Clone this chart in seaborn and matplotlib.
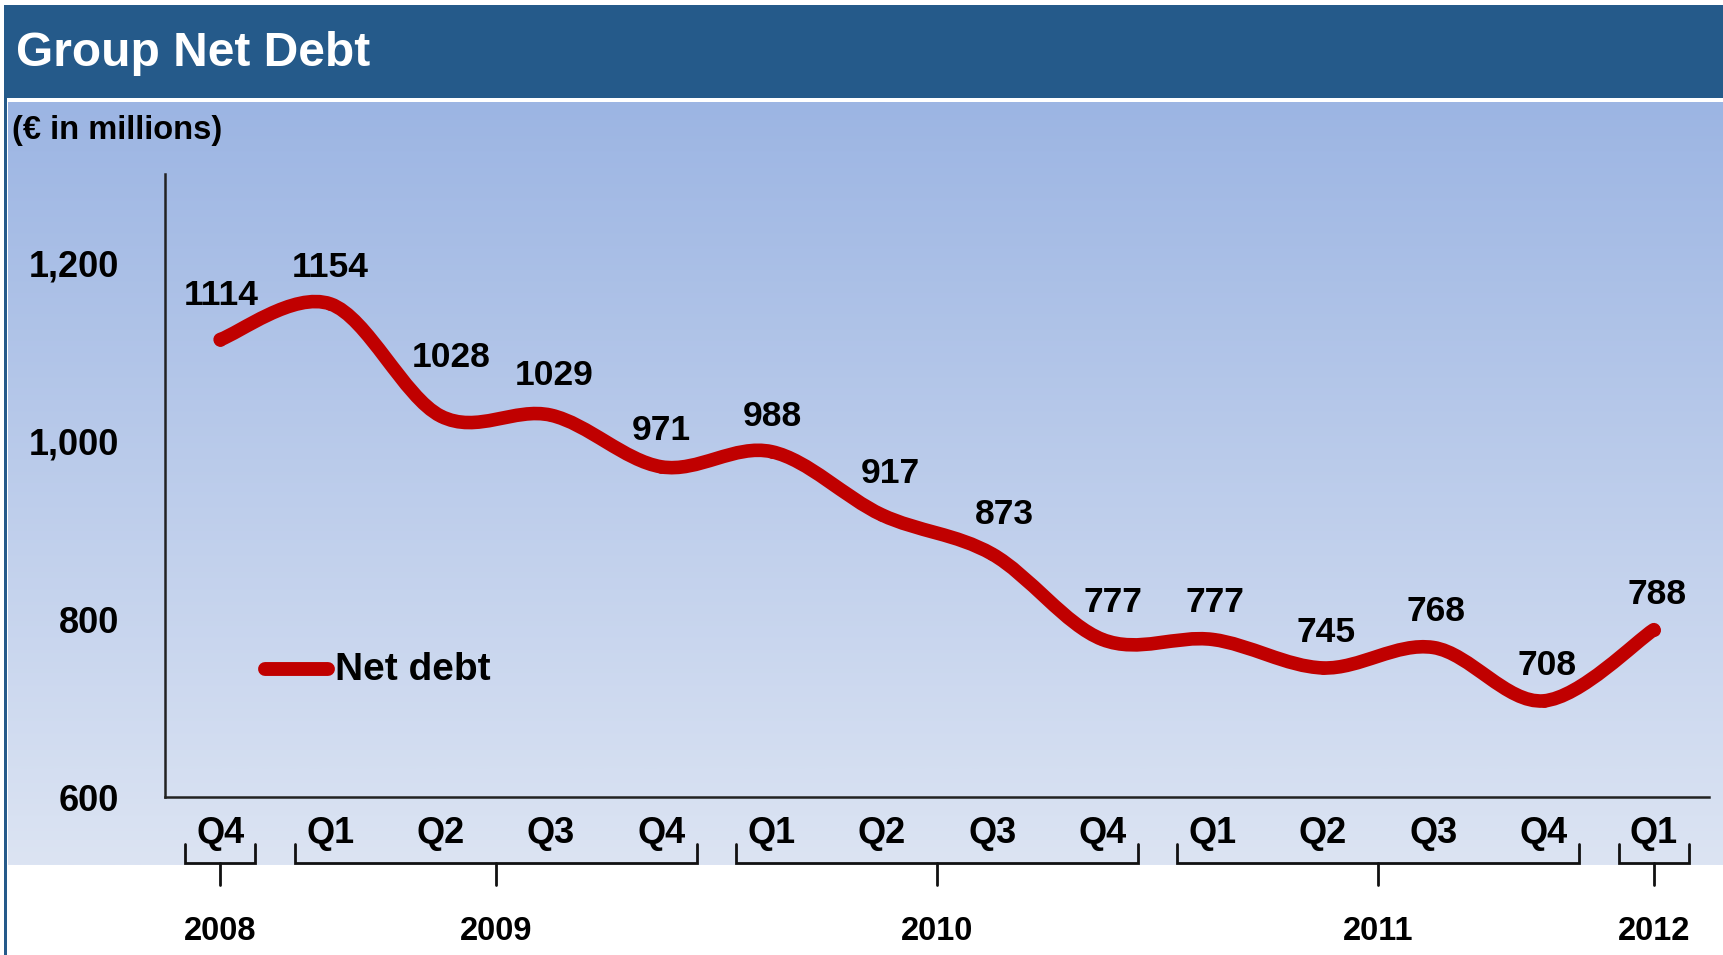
import numpy as np
import pandas as pd
import matplotlib
matplotlib.use("Agg")
import matplotlib.pyplot as plt
import seaborn as sns
from matplotlib.path import Path
from matplotlib.patches import PathPatch, Rectangle

# ---------------- data ----------------
quarters = ["Q4", "Q1", "Q2", "Q3", "Q4", "Q1", "Q2", "Q3", "Q4", "Q1", "Q2", "Q3", "Q4", "Q1"]
net_debt = [1114, 1154, 1028, 1029, 971, 988, 917, 873, 777, 777, 745, 768, 708, 788]
years = ["2008", "2009", "2010", "2011", "2012"]
quarters_per_year = [1, 4, 4, 4, 1]
y_ticks = [600, 800, 1000, 1200]
y_tick_labels = ["600", "800", "1,000", "1,200"]
series_name = "Net debt"
title = "Group Net Debt"
unit_note = "(\u20ac in millions)"

# ---------------- layout (pixels) ----------------
label_dx = [1, 0, 10, 3, 0, 1, 8, 12, 11, 2, 3, 3, 3, 3]
label_dy = [44, 36, 59, 40, 36, 35, 41, 40, 37, 37, 35, 36, 35, 35]

RED = "#C00000"
BAR = "#255A8A"
W, H = 1723, 955

sns.set_theme(style="white")
plt.rcParams["font.family"] = ["Liberation Sans", "DejaVu Sans"]
plt.rcParams["font.weight"] = "bold"

fig = plt.figure(figsize=(W / 100, H / 100), dpi=100)
fig.patch.set_facecolor("white")

# background layer in pixel coordinates
bg = fig.add_axes([0, 0, 1, 1], zorder=0)
bg.set_xlim(0, W)
bg.set_ylim(H, 0)
bg.axis("off")

top = np.array([0x9C, 0xB5, 0xE3]) / 255
bot = np.array([0xDC, 0xE4, 0xF3]) / 255
g = np.linspace(0, 1, 256)[:, None, None]
img = top[None, None, :] + (bot - top)[None, None, :] * g
bg.imshow(img, extent=[8, W, 865, 103], aspect="auto", interpolation="bilinear", zorder=0)
bg.add_patch(Rectangle((5, 5), W - 5, 93, facecolor=BAR, edgecolor="none", zorder=1))
bg.add_patch(Rectangle((4, 5), 3, H - 5, facecolor=BAR, edgecolor="none", zorder=1))
bg.set_xlim(0, W)
bg.set_ylim(H, 0)

bg.text(16, 53, title, color="white", fontsize=34.5, fontweight="bold", va="center", ha="left", zorder=3)
bg.text(12, 130, unit_note, color="black", fontsize=23.5, fontweight="bold", va="center", ha="left", zorder=3)

# legend
bg.plot([265, 328], [669, 669], color=RED, lw=10, solid_capstyle="round", zorder=3)
bg.text(335, 670, series_name, color="black", fontsize=28, fontweight="bold", va="center", ha="left", zorder=3)

# ---------------- main axes ----------------
ax_left, ax_right, ax_top, ax_bottom = 165, 1709, 174, 797
ax = fig.add_axes([ax_left / W, 1 - ax_bottom / H, (ax_right - ax_left) / W, (ax_bottom - ax_top) / H], zorder=1)
ax.patch.set_alpha(0)

x = np.arange(len(net_debt))
df = pd.DataFrame({"pos": x, "debt": net_debt})

# smooth curve through the points (Catmull-Rom as cubic Bezier)
pts = np.column_stack([x, np.array(net_debt, dtype=float)])
ext = np.vstack([pts[0], pts, pts[-1]])
verts = [tuple(pts[0])]
codes = [Path.MOVETO]
for i in range(len(pts) - 1):
    p0, p1, p2, p3 = ext[i], ext[i + 1], ext[i + 2], ext[i + 3]
    c1 = p1 + (p2 - p0) / 6.0
    c2 = p2 - (p3 - p1) / 6.0
    verts += [tuple(c1), tuple(c2), tuple(p2)]
    codes += [Path.CURVE4] * 3
ax.add_patch(PathPatch(Path(verts, codes), facecolor="none", edgecolor=RED, lw=9.8,
                       capstyle="round", joinstyle="round", zorder=3))
sns.scatterplot(data=df, x="pos", y="debt", ax=ax, color=RED, s=85, linewidth=0, legend=False, zorder=4)

for i, v in enumerate(net_debt):
    ax.annotate(str(v), (x[i], v), xytext=(label_dx[i], label_dy[i]), textcoords="offset pixels",
                ha="center", va="center", fontsize=25.5, fontweight="bold", color="black", zorder=5)

ax.set_xlim(-0.5, 13.5)
ax.set_ylim(600, 1300)
ax.set_xlabel("")
ax.set_ylabel("")
ax.set_xticks([])
ax.set_yticks(y_ticks)
ax.set_yticklabels(y_tick_labels, fontsize=26, fontweight="bold", color="black")
ax.tick_params(axis="y", length=0, pad=33)
for s in ["top", "right"]:
    ax.spines[s].set_visible(False)
for s in ["left", "bottom"]:
    ax.spines[s].set_visible(True)
    ax.spines[s].set_color("#222222")
    ax.spines[s].set_linewidth(1.8)

# quarter labels and year brackets below the axis
axh = ax_bottom - ax_top
def fy(py):
    return -(py - ax_bottom) / axh

trans = ax.get_xaxis_transform()
for i, q in enumerate(quarters):
    ax.text(x[i], fy(833), q, transform=trans, ha="center", va="center",
            fontsize=26, fontweight="bold", color="black", clip_on=False)

start = 0
for yr, n in zip(years, quarters_per_year):
    a, b = start - 0.32, start + n - 1 + 0.32
    mid = (start + start + n - 1) / 2
    ax.plot([a, a, b, b], [fy(844), fy(863), fy(863), fy(844)], color="#111111", lw=2,
            transform=trans, clip_on=False, solid_joinstyle="miter")
    ax.plot([mid, mid], [fy(863), fy(885)], color="#111111", lw=2, transform=trans, clip_on=False)
    ax.text(mid, fy(931), yr, transform=trans, ha="center", va="center",
            fontsize=23.5, fontweight="bold", color="black", clip_on=False)
    start += n

fig.savefig("out.png", dpi=100)
